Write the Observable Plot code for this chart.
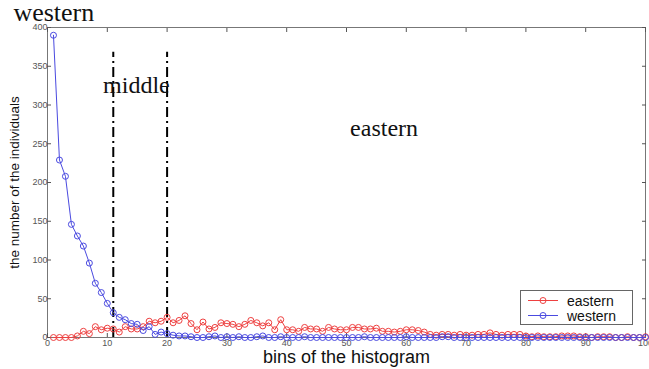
<!DOCTYPE html>
<html>
<head>
<meta charset="utf-8">
<script src="https://cdn.jsdelivr.net/npm/d3@7"></script>
<script src="https://cdn.jsdelivr.net/npm/@observablehq/plot@0.6"></script>
<style>
  html, body { margin: 0; padding: 0; background: #fff; }
  #wrap { position: relative; width: 649px; height: 369px; }
  #legend { position: absolute; left: 520px; top: 290px; width: 113px; height: 35px;
    border: 1px solid #666; background: #fff; font-family: "Liberation Sans", Arial, sans-serif;
    font-size: 14px; color: #111; box-sizing: border-box; }
  #legend .row { position: absolute; left: 0; height: 15px; display: flex; align-items: center; }
  #legend svg { display: block; }
</style>
</head>
<body>
<div id="wrap"></div>
<script>
// bins 1..100
const bins = d3.range(1, 101);
const eastern = [0,0,0,0,2,8,5,14,10,12, 11,7,14,11,11,14,21,19,21,26,
  19,22,28,18,10,20,11,13,19,18, 17,14,17,22,19,15,19,10,23,10,
  10,8,13,11,11,8,13,11,10,10, 13,13,11,11,12,8,8,7,8,10,
  10,9,7,4,3,4,4,3,4,3, 3,4,4,6,4,3,4,4,4,2,
  1,2,1,1,1,2,2,2,1,1, 0,1,1,1,0,0,1,0,0,1];
const western = [390,229,208,146,131,118,96,70,58,44, 32,26,23,18,17,9,14,4,7,5,
  3,2,2,1,0,0,1,2,0,1, 0,1,0,0,1,2,0,0,1,0,
  0,0,1,0,0,0,0,0,0,0, 0,0,1,0,0,0,0,0,0,1,
  0,0,0,0,0,1,1,0,0,0, 0,0,0,0,0,0,0,0,0,0,
  0,0,0,0,0,0,0,0,0,0, 0,0,0,0,0,0,0,0,0,0];
const xTicks = d3.range(0, 101, 10);
const yTicks = d3.range(0, 401, 50);
const dividers = [11, 20];
const titleLabel = {label: "western", x: -5.7, y: 432};
const regionLabels = [
  {label: "middle", x: 9.3, y: 325},
  {label: "eastern", x: 50.6, y: 270}
];
const xLabel = "bins of the histogram";
const yLabel = "the number of the individuals";

const eastData = bins.map((b, i) => ({bin: b, v: eastern[i]}));
const westData = bins.map((b, i) => ({bin: b, v: western[i]}));
const red = "#ee4040", blue = "#4a4ae0";
const serif = "Liberation Serif, Times New Roman, serif";

const chart = Plot.plot({
  width: 649, height: 369,
  marginLeft: 47, marginRight: 4, marginTop: 27, marginBottom: 32,
  style: {fontFamily: "Liberation Sans, Arial, sans-serif", background: "#fff"},
  x: {domain: [0, 100]},
  y: {domain: [0, 400]},
  marks: [
    Plot.frame({stroke: "#777"}),
    Plot.axisX({ticks: xTicks, tickSize: -4, tickPadding: 6.5, fontSize: 9, color: "#555", label: null}),
    Plot.axisX({anchor: "top", ticks: xTicks, tickSize: -4, tickFormat: () => "", color: "#555", label: null}),
    Plot.axisY({ticks: yTicks, tickSize: -4, tickPadding: 4, fontSize: 9, color: "#555", label: null}),
    Plot.axisY({anchor: "right", ticks: yTicks, tickSize: -4, tickFormat: () => "", color: "#555", label: null}),
    Plot.ruleX(dividers, {y1: 0, y2: 368, stroke: "#000", strokeWidth: 2, strokeDasharray: "10,4,2,4"}),
    Plot.line(eastData, {x: "bin", y: "v", stroke: red, strokeWidth: 1}),
    Plot.dot(eastData, {x: "bin", y: "v", stroke: red, r: 3, strokeWidth: 1}),
    Plot.line(westData, {x: "bin", y: "v", stroke: blue, strokeWidth: 1}),
    Plot.dot(westData, {x: "bin", y: "v", stroke: blue, r: 3, strokeWidth: 1}),
    Plot.text([titleLabel], {x: "x", y: "y", text: "label", fontSize: 26, lineAnchor: "top", fontFamily: serif, textAnchor: "start", fill: "#111"}),
    Plot.text(regionLabels, {x: "x", y: "y", text: "label", fontSize: 24, fontFamily: serif, textAnchor: "start", fill: "#111"}),
    Plot.text([xLabel], {frameAnchor: "bottom", dy: 20, lineAnchor: "middle", textAnchor: "middle", fontSize: 18, fill: "#111"}),
    Plot.text([yLabel], {frameAnchor: "left", dx: -33, rotate: -90, textAnchor: "middle", lineAnchor: "middle", fontSize: 13.5, fill: "#111"})
  ]
});
const wrap = document.getElementById("wrap");
wrap.appendChild(chart);

const legend = document.createElement("div");
legend.id = "legend";
const items = [{name: "eastern", color: red}, {name: "western", color: blue}];
items.forEach((it, i) => {
  const row = document.createElement("div");
  row.className = "row";
  row.style.top = (2 + i * 15) + "px";
  row.innerHTML = `<svg width="46" height="15"><line x1="7" x2="37" y1="7.5" y2="7.5" stroke="${it.color}"/><circle cx="22" cy="7.5" r="3" fill="none" stroke="${it.color}"/></svg><span>${it.name}</span>`;
  legend.appendChild(row);
});
wrap.appendChild(legend);
</script>
</body>
</html>
